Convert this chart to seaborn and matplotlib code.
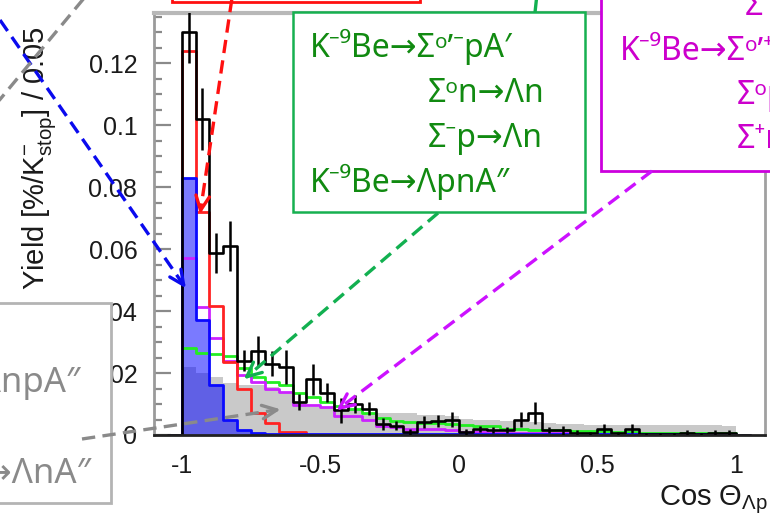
import numpy as np
import pandas as pd
import matplotlib
matplotlib.use("Agg")
import matplotlib.pyplot as plt
import seaborn as sns
from matplotlib.patches import Rectangle
from matplotlib.lines import Line2D
from matplotlib.ticker import AutoMinorLocator

# ---------------- data (yield per 0.05 bin, 40 bins from -1 to 1) ----------------
bin_lo, bin_hi, n_bins = -1.0, 1.0, 40

data_yield = [0.130, 0.102, 0.0587, 0.061, 0.024, 0.027, 0.023, 0.022, 0.0107, 0.018,
              0.0137, 0.008, 0.010, 0.0085, 0.0035, 0.003, 0.001, 0.0042, 0.0045, 0.005,
              0.001, 0.002, 0.0015, 0.0016, 0.005, 0.007, 0.0015, 0.0015, 0.0008, 0.0005,
              0.002, 0.0005, 0.002, 0.0003, 0.0003, 0.0003, 0.0008, 0.0003, 0.0008, 0.0008]
data_err = [0.010, 0.010, 0.0065, 0.008, 0.0035, 0.005, 0.004, 0.0055, 0.0025, 0.005,
            0.003, 0.004, 0.003, 0.002, 0.002, 0.0015, 0.001, 0.002, 0.002, 0.0025,
            0.001, 0.001, 0.001, 0.001, 0.0025, 0.0035, 0.001, 0.0015, 0.0008, 0.0005,
            0.0015, 0.0005, 0.0015, 0.0003, 0.0003, 0.0003, 0.0008, 0.0003, 0.0008, 0.0008]
red_yield = [0.124, 0.072, 0.0416, 0.0237, 0.015, 0.0071, 0.0039, 0.001, 0.001, 0.0,
             0, 0, 0, 0, 0, 0, 0, 0, 0, 0,
             0, 0, 0, 0, 0, 0, 0, 0, 0, 0,
             0, 0, 0, 0, 0, 0, 0, 0, 0, 0]
magenta_yield = [0.0572, 0.0413, 0.0313, 0.024, 0.0194, 0.0172, 0.015, 0.014, 0.0097, 0.0097,
                 0.009, 0.006, 0.006, 0.0048, 0.003, 0.0025, 0.002, 0.002, 0.0018, 0.0015,
                 0.001, 0.001, 0.0008, 0.0007, 0.0006, 0.0006, 0.0005, 0.0005, 0.0004, 0.0004,
                 0.0003, 0.0003, 0.0003, 0.0003, 0.0002, 0.0002, 0.0002, 0.0002, 0.0002, 0.0002]
green_yield = [0.028, 0.0265, 0.026, 0.0255, 0.0215, 0.0188, 0.017, 0.016, 0.0137, 0.0124,
               0.0108, 0.0094, 0.0083, 0.007, 0.0054, 0.0045, 0.0042, 0.0039, 0.0039, 0.0036,
               0.0032, 0.003, 0.0028, 0.0019, 0.0018, 0.0017, 0.0017, 0.0016, 0.0013, 0.0012,
               0.0012, 0.0011, 0.001, 0.0008, 0.0006, 0.0005, 0.0005, 0.0005, 0.0005, 0.0005]
blue_yield = [0.083, 0.037, 0.016, 0.0048, 0.0016, 0.0008, 0.0004, 0.0003, 0.0002, 0.0002,
              0.0002, 0.0002, 0.0002, 0.0002, 0.0002, 0.0002, 0.0002, 0.0002, 0.0002, 0.0002,
              0.0002, 0.0002, 0.0002, 0.0002, 0.0002, 0.0002, 0.0002, 0.0002, 0.0002, 0.0002,
              0.0002, 0.0002, 0.0002, 0.0002, 0.0002, 0.0002, 0.0002, 0.0002, 0.0002, 0.0002]
gray_yield = [0.022, 0.020, 0.0188, 0.0167, 0.016, 0.016, 0.0155, 0.014, 0.0107, 0.009,
              0.009, 0.008, 0.008, 0.0072, 0.0072, 0.0072, 0.007, 0.0065, 0.0063, 0.0062,
              0.0052, 0.005, 0.0048, 0.0046, 0.0043, 0.0042, 0.0038, 0.0036, 0.0034, 0.0033,
              0.0033, 0.0032, 0.0032, 0.0032, 0.0033, 0.0033, 0.0032, 0.0032, 0.0032, 0.0030]

x_ticks = [-1, -0.5, 0, 0.5, 1]
x_tick_labels = ["-1", "-0.5", "0", "0.5", "1"]
y_ticks = [0, 0.02, 0.04, 0.06, 0.08, 0.10, 0.12]
y_tick_labels = ["0", "0.02", "0.04", "0.06", "0.08", "0.1", "0.12"]

green_lines = ["K\u207b\u2079Be\u2192\u03a3\u1d52\u02bc\u207bpA\u2032",
               "\u03a3\u1d52n\u2192\u039bn",
               "\u03a3\u207bp\u2192\u039bn",
               "K\u207b\u2079Be\u2192\u039bpnA\u2033"]
magenta_lines = ["\u03a3\u207apA\u2033",
                 "K\u207b\u2079Be\u2192\u03a3\u1d52\u02bc\u207apA\u2032",
                 "\u03a3\u1d52p\u2192\u039bp",
                 "\u03a3\u207an\u2192\u039bp"]
gray_lines = ["K\u207b\u2079Be\u2192\u039bnpA\u2033",
              "K\u207b\u2079Be\u2192\u039bnA\u2033"]

# ---------------- style ----------------
sns.set_style("white")
plt.rcParams["font.family"] = ["Liberation Sans", "DejaVu Sans"]
plt.rcParams["mathtext.fontset"] = "custom"
plt.rcParams["mathtext.rm"] = "Liberation Sans"
plt.rcParams["mathtext.it"] = "Liberation Sans:italic"
plt.rcParams["mathtext.bf"] = "Liberation Sans:bold"

W, H = 770, 520
fig = plt.figure(figsize=(W / 100, H / 100), dpi=100)
fig.patch.set_facecolor("white")
ax_l, ax_r, ax_t, ax_b = 154, 765, 13, 435
ax = fig.add_axes([ax_l / W, 1 - ax_b / H, (ax_r - ax_l) / W, (ax_b - ax_t) / H])
ax.set_facecolor("white")

width = (bin_hi - bin_lo) / n_bins
edges = [float(e) for e in np.linspace(bin_lo - width, bin_hi + width, n_bins + 3)]
centers = [0.5 * (a + b) for a, b in zip(edges[:-1], edges[1:])]


def padded(v):
    return [0.0] + [float(a) for a in v] + [0.0]


def step(vals, **kw):
    df = pd.DataFrame({"cos": centers, "w": padded(vals)})
    sns.histplot(data=df, x="cos", weights="w", bins=edges, element="step",
                 stat="count", ax=ax, legend=False, **kw)


step(gray_yield, fill=True, color="#c9c9c9", alpha=1, linewidth=0)
step(green_yield, fill=False, color="#22ee22", linewidth=2.0)
step(magenta_yield, fill=False, color="#cc22ff", linewidth=2.0)
step(blue_yield, fill=True, color="#0000ff", alpha=0.52, linewidth=0)
step(red_yield, fill=False, color="#ff2222", linewidth=2.0)
step(blue_yield, fill=False, color="#0a0aff", linewidth=2.0)
step(data_yield, fill=False, color="black", linewidth=1.9)
ax.errorbar(centers[1:-1], data_yield, yerr=data_err, fmt="none", ecolor="black",
            elinewidth=1.8, capsize=0, zorder=5)

ax.set_xlim(-1.1, 1.105)
ax.set_ylim(0, 0.1362)
ax.set_xlabel("")
ax.set_ylabel("")
ax.set_xticks(x_ticks)
ax.set_xticklabels(x_tick_labels)
ax.set_yticks(y_ticks)
ax.set_yticklabels(y_tick_labels)
ax.yaxis.set_minor_locator(AutoMinorLocator(4))
ax.tick_params(axis="y", which="major", direction="in", length=12, width=1.6,
               color="#8a8a8a", labelsize=18, pad=12, labelcolor="#1a1a1a", left=True)
ax.tick_params(axis="y", which="minor", direction="in", length=6, width=1.6,
               color="#8a8a8a", left=True)
ax.tick_params(axis="x", which="major", direction="in", length=0,
               labelsize=18, pad=14, labelcolor="#1a1a1a")
ax.spines["left"].set_color("#9a9a9a"); ax.spines["left"].set_linewidth(2)
ax.spines["top"].set_color("#b8b8b8"); ax.spines["top"].set_linewidth(3)
ax.spines["right"].set_color("#a0a0a0"); ax.spines["right"].set_linewidth(2)
ax.spines["bottom"].set_color("#222222"); ax.spines["bottom"].set_linewidth(2)
for s in ax.spines.values():
    s.set_visible(True)

# axis titles
fig.text(39 / W, 1 - 158 / H, r"Yield [%/K$^{-}_{\mathrm{stop}}$] / 0.05", rotation=90,
         ha="center", va="center", fontsize=21, color="#1a1a1a")
fig.text(768 / W, 1 - 505 / H, r"Cos $\mathrm{\Theta}_{\mathrm{\Lambda p}}$", ha="right",
         va="baseline", fontsize=21, color="#1a1a1a")


# ---------------- annotation boxes ----------------
def pxf(x, y):
    return x / W, 1 - y / H


def box(x0, y0, x1, y1, ec, lw=2):
    fx0, fy1 = pxf(x0, y1)
    r = Rectangle((fx0, fy1), (x1 - x0) / W, (y1 - y0) / H, transform=fig.transFigure,
                  facecolor="white", edgecolor=ec, linewidth=lw, zorder=10)
    fig.add_artist(r)


box_font = ["Noto Sans", "DejaVu Sans"]


def btext(x, y, s, c, ha="left", size=23):
    fx, fy = pxf(x, y)
    fig.text(fx, fy, s, color=c, fontsize=size, ha=ha, va="baseline",
             family=box_font, zorder=11)


box(172, -200, 420, 1.5, "#ff1010")
box(293, 12.5, 585, 212, "#16b050", lw=1.8)
box(600.5, -200, 1000, 170.5, "#cc00dd")
box(-200, 303, 111, 503, "#b4b4b4")

gcol = "#118a11"
btext(310, 57, green_lines[0], gcol)
btext(428, 102, green_lines[1], gcol)
btext(428, 147, green_lines[2], gcol)
btext(310, 192, green_lines[3], gcol)

mcol = "#cc00cc"
btext(745, 15, magenta_lines[0], mcol)
btext(620, 60, magenta_lines[1], mcol)
btext(737, 104, magenta_lines[2], mcol)
btext(737, 148, magenta_lines[3], mcol)

grcol = "#8a8a8a"
btext(81, 392, gray_lines[0], grcol, ha="right", size=25)
btext(91, 483, gray_lines[1], grcol, ha="right", size=25)


# ---------------- dashed arrows ----------------
def data_px(x, y):
    return ax.transData.transform((x, y))


def dashed(p0, p1, color, head=True):
    p0 = np.asarray(p0, float); p1 = np.asarray(p1, float)
    fig.add_artist(Line2D([p0[0] / W, p1[0] / W], [p0[1] / H, p1[1] / H],
                          transform=fig.transFigure, color=color, lw=2.4,
                          ls=(0, (4, 2.2)), zorder=12))
    if head:
        d = (p1 - p0) / np.linalg.norm(p1 - p0)
        for ang in (25, -25):
            a = np.deg2rad(ang)
            rd = np.array([d[0] * np.cos(a) - d[1] * np.sin(a),
                           d[0] * np.sin(a) + d[1] * np.cos(a)])
            q = p1 - 16 * rd
            fig.add_artist(Line2D([p1[0] / W, q[0] / W], [p1[1] / H, q[1] / H],
                                  transform=fig.transFigure, color=color, lw=2.4,
                                  zorder=12, solid_capstyle="round"))


def top(x, y):
    return (x, H - y)


dashed(top(232, -2), data_px(-0.932, 0.0725), "#ff1010")
dashed(top(0, 20), data_px(-0.993, 0.0484), "#0a0aee")
dashed(top(85, -3), top(-3, 103), "#8a8a8a", head=False)
dashed(top(438, 213), data_px(-0.765, 0.0188), "#12b050")
dashed(top(537, -6), top(535, 12.5), "#12b050", head=False)
dashed(top(652, 171), data_px(-0.43, 0.0087), "#cc11ff")
dashed(top(82, 439), data_px(-0.657, 0.0081), "#8a8a8a")

fig.savefig("out.png", dpi=100)
